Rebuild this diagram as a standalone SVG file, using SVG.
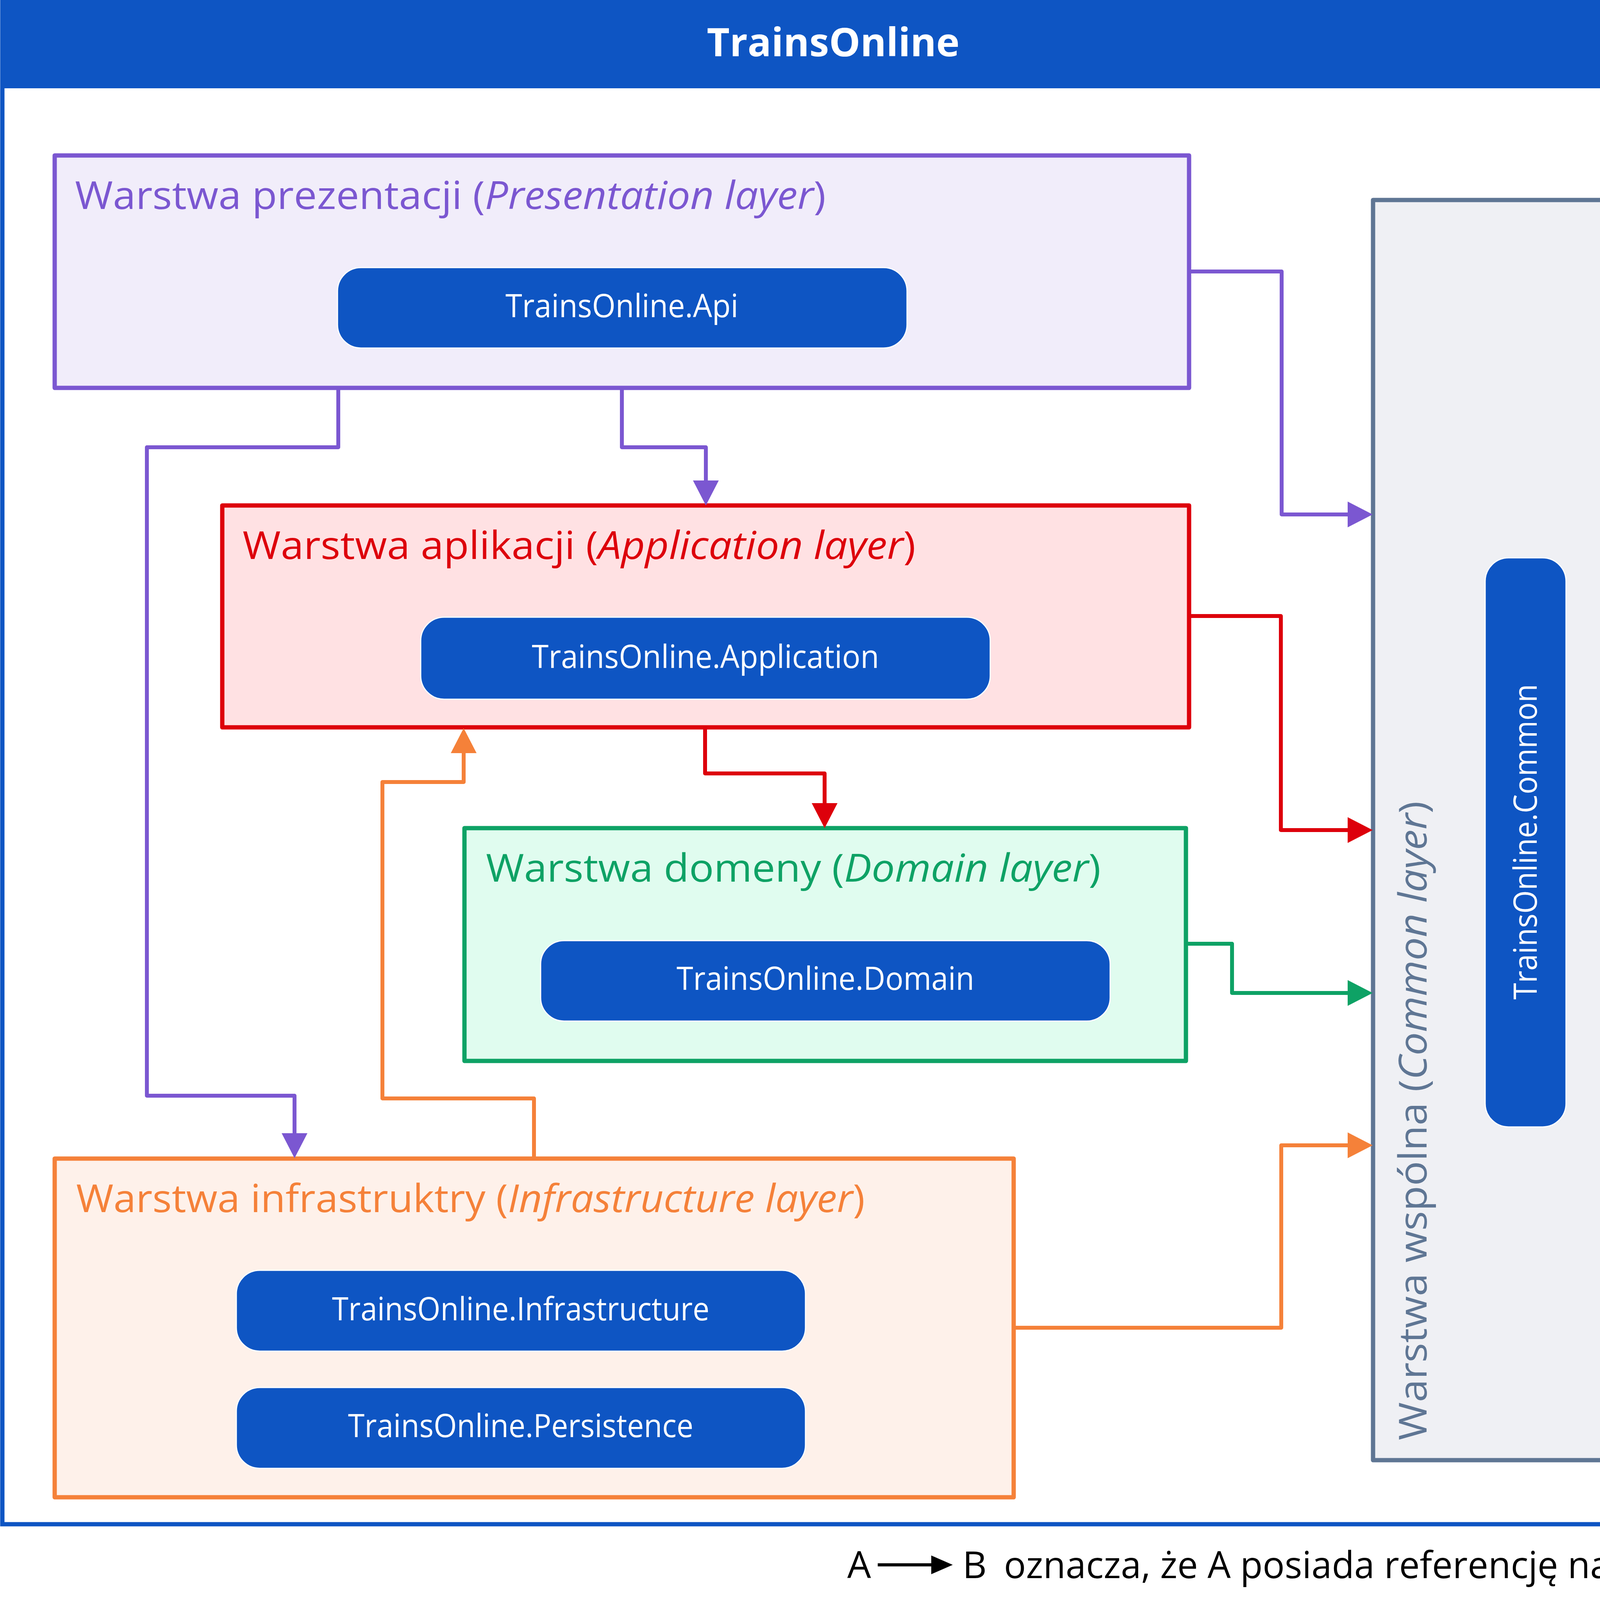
<svg xmlns="http://www.w3.org/2000/svg" width="4267" height="4117" viewBox="0 0 4267 4117">
<style>
text{font-family:"Open Sans","Noto Sans","DejaVu Sans",sans-serif}
.layer{font-size:98px}
.pilltxt{font-size:82px;fill:#FFFFFF;text-anchor:middle}
.pill{fill:#0E55C3;stroke:#FFFFFF;stroke-width:3}
.box{stroke-width:11;stroke-linejoin:round}
.conn{fill:none;stroke-width:10;stroke-linejoin:round;stroke-linecap:butt}
.it{font-style:italic}
</style>
<defs>
<marker id="aP" markerUnits="userSpaceOnUse" markerWidth="66" markerHeight="68" refX="0" refY="33" orient="auto"><path d="M0,0 L64,33 L0,66 z" fill="#7B57D1"/></marker>
<marker id="aR" markerUnits="userSpaceOnUse" markerWidth="66" markerHeight="68" refX="0" refY="33" orient="auto"><path d="M0,0 L64,33 L0,66 z" fill="#DD000B"/></marker>
<marker id="aG" markerUnits="userSpaceOnUse" markerWidth="66" markerHeight="68" refX="0" refY="33" orient="auto"><path d="M0,0 L64,33 L0,66 z" fill="#0EA265"/></marker>
<marker id="aO" markerUnits="userSpaceOnUse" markerWidth="66" markerHeight="68" refX="0" refY="33" orient="auto"><path d="M0,0 L64,33 L0,66 z" fill="#F58139"/></marker>
</defs>
<rect x="0" y="0" width="4267" height="4117" fill="#FFFFFF"/>
<g id="frame">
<rect x="6" y="5" width="4252" height="3897" fill="#FFFFFF" stroke="#0E55C3" stroke-width="11"/>
<rect x="1" y="0" width="4263" height="226" fill="#0E55C3"/>
<text x="2133" y="144" font-size="100" font-weight="bold" fill="#FFFFFF" text-anchor="middle" textLength="647" lengthAdjust="spacingAndGlyphs">TrainsOnline</text>
</g>
<g id="presentation">
<rect class="box" x="140" y="398" width="2904" height="595" fill="#F1EDFA" stroke="#7B57D1"/>
<text class="layer" x="192" y="535" fill="#7B57D1" textLength="1922" lengthAdjust="spacingAndGlyphs">Warstwa prezentacji (<tspan class="it">Presentation layer</tspan>)</text>
<g id="api">
<rect class="pill" x="864" y="685" width="1458" height="206" rx="60" ry="60"/>
<text class="pilltxt" x="1592" y="812" textLength="596" lengthAdjust="spacingAndGlyphs">TrainsOnline.Api</text>
</g>
</g>
<g id="application">
<rect class="box" x="569" y="1294" width="2475" height="568" fill="#FFE1E3" stroke="#DD000B"/>
<text class="layer" x="621" y="1431" fill="#DD000B" textLength="1723" lengthAdjust="spacingAndGlyphs">Warstwa aplikacji (<tspan class="it">Application layer</tspan>)</text>
<g id="app">
<rect class="pill" x="1077" y="1580" width="1458" height="210" rx="60" ry="60"/>
<text class="pilltxt" x="1806" y="1710" textLength="889" lengthAdjust="spacingAndGlyphs">TrainsOnline.Application</text>
</g>
</g>
<g id="domain">
<rect class="box" x="1189" y="2120" width="1847" height="596" fill="#E0FCEF" stroke="#0EA265"/>
<text class="layer" x="1244" y="2257" fill="#0EA265" textLength="1574" lengthAdjust="spacingAndGlyphs">Warstwa domeny (<tspan class="it">Domain layer</tspan>)</text>
<g id="dom">
<rect class="pill" x="1384" y="2408" width="1458" height="206" rx="60" ry="60"/>
<text class="pilltxt" x="2113" y="2534" textLength="762" lengthAdjust="spacingAndGlyphs">TrainsOnline.Domain</text>
</g>
</g>
<g id="infrastructure">
<rect class="box" x="140" y="2966" width="2455" height="867" fill="#FEF1EA" stroke="#F58139"/>
<text class="layer" x="195" y="3103" fill="#F58139" textLength="2019" lengthAdjust="spacingAndGlyphs">Warstwa infrastruktry (<tspan class="it">Infrastructure layer</tspan>)</text>
<g id="infra">
<rect class="pill" x="605" y="3252" width="1457" height="207" rx="60" ry="60"/>
<text class="pilltxt" x="1333" y="3380" textLength="966" lengthAdjust="spacingAndGlyphs">TrainsOnline.Infrastructure</text>
</g>
<g id="persistence">
<rect class="pill" x="605" y="3552" width="1457" height="207" rx="60" ry="60"/>
<text class="pilltxt" x="1333" y="3679" textLength="884" lengthAdjust="spacingAndGlyphs">TrainsOnline.Persistence</text>
</g>
</g>
<g id="commonlayer">
<rect class="box" x="3515" y="512" width="614" height="3226" fill="#EFF0F4" stroke="#5F7694"/>
<text class="layer" transform="translate(3652,3687) rotate(-90)" x="0" y="0" fill="#5F7694" textLength="1636" lengthAdjust="spacingAndGlyphs">Warstwa wspólna (<tspan class="it">Common layer</tspan>)</text>
<g id="common">
<rect class="pill" x="3802" y="1428" width="207" height="1457" rx="60" ry="60"/>
<text class="pilltxt" transform="translate(3934,2155) rotate(-90)" x="0" y="0" textLength="808" lengthAdjust="spacingAndGlyphs">TrainsOnline.Common</text>
</g>
</g>
<g id="connectors">
<path class="conn" stroke="#7B57D1" marker-end="url(#aP)" d="M3044,695 L3281,695 L3281,1317 L3450,1317"/>
<path class="conn" stroke="#7B57D1" marker-end="url(#aP)" d="M1592,993 L1592,1145 L1807,1145 L1807,1230"/>
<path class="conn" stroke="#7B57D1" marker-end="url(#aP)" d="M866,993 L866,1145 L376,1145 L376,2805 L754,2805 L754,2901"/>
<path class="conn" stroke="#DD000B" marker-end="url(#aR)" d="M3044,1577 L3279,1577 L3279,2125 L3450,2125"/>
<path class="conn" stroke="#DD000B" marker-end="url(#aR)" d="M1805,1862 L1805,1980 L2111,1980 L2111,2056"/>
<path class="conn" stroke="#0EA265" marker-end="url(#aG)" d="M3036,2416 L3154,2416 L3154,2542 L3450,2542"/>
<path class="conn" stroke="#F58139" marker-end="url(#aO)" d="M1367,2966 L1367,2812 L979,2812 L979,2002 L1187,2002 L1187,1928"/>
<path class="conn" stroke="#F58139" marker-end="url(#aO)" d="M2596,3399 L3280,3399 L3280,2932 L3450,2932"/>
</g>
<g id="legend">
<text x="2169" y="4040" font-size="96" fill="#000000">A</text>
<line x1="2247" y1="4006" x2="2390" y2="4006" stroke="#000000" stroke-width="8"/>
<path d="M2384,3982 L2439,4006 L2384,4030 z" fill="#000000"/>
<text x="2464" y="4040" font-size="96" fill="#000000">B</text>
<text x="2570" y="4040" font-size="96" fill="#000000" textLength="1638" lengthAdjust="spacingAndGlyphs">oznacza, że A posiada referencję na B</text>
</g>
</svg>
